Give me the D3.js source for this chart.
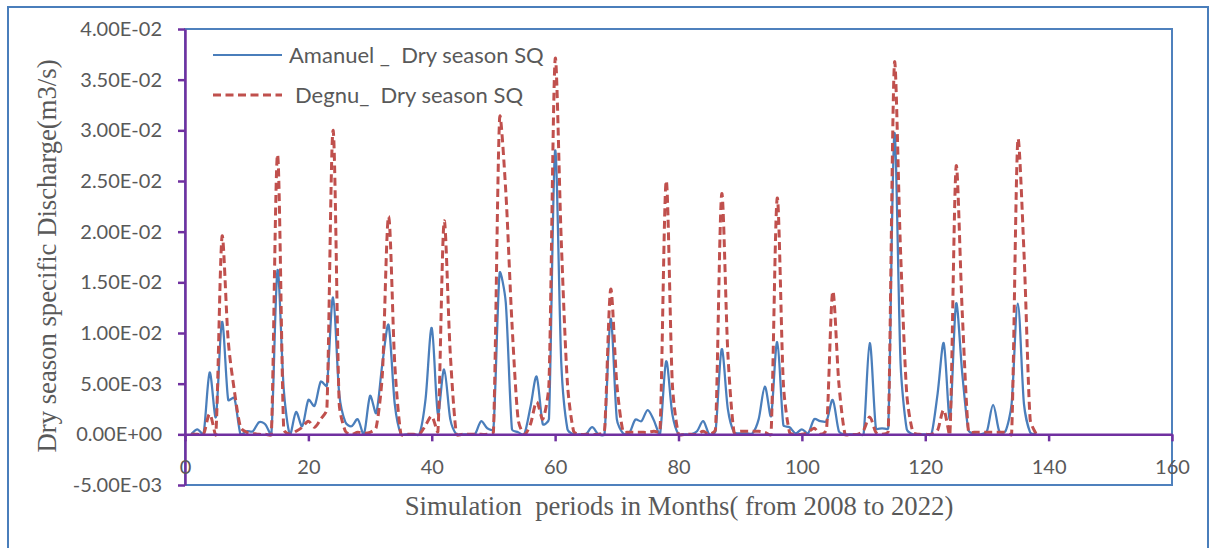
<!DOCTYPE html>
<html>
<head>
<meta charset="utf-8">
<script src="https://cdn.jsdelivr.net/npm/d3@7"></script>
<style>
  body { margin: 0; background: #fff; }
  svg { display: block; }
</style>
</head>
<body>
<div id="chart"></div>
<script>
// months 1..138 of the simulation
var months = d3.range(1, 139);

// dry season specific discharge, in 1e-3 m3/s
var amanuel = [
  0, 0.5, 0, 6.1, 1.7, 11.1, 3.4, 3.6, 0, 0.3,
  0.3, 1.2, 1.0, 0, 16.2, 4.5, 0, 2.2, 0.8, 3.4,
  2.8, 5.2, 4.8, 13.5, 4.0, 1.2, 0.8, 1.5, 0, 3.8,
  2.1, 7.0, 10.8, 3.0, 0, 0, 0, 0, 3.5, 10.5,
  2.0, 6.4, 1.5, 0, 0, 0, 0, 1.3, 0.6, 0.5,
  15.9, 13.0, 0.5, 0.2, 0, 2.7, 5.7, 1.0, 1.5, 28.0,
  7.0, 0.5, 0, 0, 0, 0.7, 0, 0, 11.4, 1.5,
  0.1, 0.1, 1.45, 1.3, 2.4, 1.4, 0, 7.2, 2.0, 0,
  0, 0, 0.3, 1.3, 0, 0.3, 8.4, 2.5, 0.2, 0.1,
  0.1, 0.1, 1.5, 4.7, 1.8, 9.1, 0.9, 0.7, 0.1, 0.5,
  0.1, 1.5, 1.3, 1.3, 3.4, 0.3, 0, 0, 0, 0,
  9.0, 0.6, 0.6, 0.6, 29.7, 7.0, 0.5, 0, 0, 0,
  0, 4.0, 9.0, 1.5, 12.9, 6.0, 0.4, 0, 0, 0.3,
  2.9, 0.3, 0.3, 3.0, 12.9, 3.0, 0.2, 0
];

var degnu = [
  0, 0, 0, 2.0, 0, 19.5, 9.3, 4.3, 0.7, 0.2,
  0.1, 0, 0, 0, 27.6, 0.5, 0, 0.3, 0.7, 1.3,
  0.7, 1.5, 2.5, 30.0, 3.0, 0.3, 0, 0.2, 0.1, 0.2,
  0.7, 6.0, 21.5, 7.0, 0, 0, 0, 0, 0.9, 1.8,
  0.3, 21.0, 8.0, 0, 0, 0, 0, 0, 0, 0.2,
  31.2, 24.0, 11.0, 1.5, 0, 1.0, 3.2, 1.5, 5.0, 37.0,
  19.0, 5.0, 0.3, 0, 0, 0, 0, 0.3, 14.3, 5.0,
  0.3, 0.2, 0.2, 0.2, 0.2, 0.3, 0.3, 25.0, 5.0, 0,
  0, 0, 0, 0.3, 0, 0.5, 23.7, 8.0, 0.2, 0.3,
  0.3, 0.3, 0.3, 0.2, 0, 23.3, 5.0, 0.2, 0, 0,
  0.2, 0.6, 0, 0.5, 14.1, 5.0, 0, 0, 0, 0.4,
  1.7, 0.2, 0, 0.3, 36.6, 18.0, 4.0, 0.2, 0, 0,
  0, 0.4, 2.4, 0, 26.4, 12.0, 0.3, 0.2, 0.2, 0.2,
  0.2, 0.2, 0.2, 0, 29.0, 18.0, 1.5, 0
];

var yTicks = [-5, 0, 5, 10, 15, 20, 25, 30, 35, 40];
var yTickLabels = ["-5.00E-03", "0.00E+00", "5.00E-03", "1.00E-02", "1.50E-02",
  "2.00E-02", "2.50E-02", "3.00E-02", "3.50E-02", "4.00E-02"];
var xTicks = [0, 20, 40, 60, 80, 100, 120, 140, 160];

var seriesNames = ["Amanuel _  Dry season SQ", "Degnu_  Dry season SQ"];

// spreadsheet-style smoothing: bezier with 1/6 tangents, shortened next to
// short segments so the line does not swing far below zero beside a spike
var ctrl = function (a, b, c) {
  var dab = Math.hypot(b[0] - a[0], b[1] - a[1]);
  var dbc = Math.hypot(c[0] - b[0], c[1] - b[1]);
  var s = (dab + dbc) > 0 ? Math.min(1, 2 * dbc / (dab + dbc)) : 0;
  return [b[0] + (c[0] - a[0]) * s / 6, b[1] + (c[1] - a[1]) * s / 6];
};

var smoothPath = function (pts) {
  var p = d3.path();
  var n = pts.length;
  p.moveTo(pts[0][0], pts[0][1]);
  for (var i = 0; i < n - 1; i++) {
    var p0 = pts[Math.max(i - 1, 0)], p1 = pts[i], p2 = pts[i + 1], p3 = pts[Math.min(i + 2, n - 1)];
    var c1 = ctrl(p0, p1, p2);
    var c2 = ctrl(p3, p2, p1);
    p.bezierCurveTo(c1[0], c1[1], c2[0], c2[1], p2[0], p2[1]);
  }
  return p.toString();
};

var draw = function () {
  var width = 1210, height = 548;
  var plotLeft = 185, plotRight = 1172, plotTop = 29, plotBottom = 485;
  var purple = "#7030A0", textColor = "#595959";
  var sans = "Lato, 'Open Sans', sans-serif";
  var serif = "'Liberation Serif', 'Times New Roman', serif";

  var svg = d3.select("#chart").append("svg")
    .attr("width", width)
    .attr("height", height);

  svg.append("rect").attr("width", width).attr("height", height).attr("fill", "#fff");

  // outer frame
  svg.append("rect")
    .attr("x", 8).attr("y", 7)
    .attr("width", 1200).attr("height", 560)
    .attr("fill", "none")
    .attr("stroke", "#4A7EBB")
    .attr("stroke-width", 2);

  var x = d3.scaleLinear().domain([0, 160]).range([plotLeft, plotRight]);
  var y = d3.scaleLinear().domain([-5, 40]).range([plotBottom, plotTop]);

  // plot area border
  svg.append("rect")
    .attr("x", plotLeft).attr("y", plotTop)
    .attr("width", plotRight - plotLeft).attr("height", plotBottom - plotTop)
    .attr("fill", "none")
    .attr("stroke", "#4F81BD")
    .attr("stroke-width", 2);

  var toPoints = function (values) {
    return values.map(function (v, i) { return [x(months[i]), y(v)]; });
  };

  svg.append("path")
    .attr("d", smoothPath(toPoints(amanuel)))
    .attr("fill", "none")
    .attr("stroke", "#4A7EBB")
    .attr("stroke-width", 2.25);

  svg.append("path")
    .attr("d", smoothPath(toPoints(degnu)))
    .attr("fill", "none")
    .attr("stroke", "#C0504D")
    .attr("stroke-width", 3)
    .attr("stroke-dasharray", "8,4.5");

  // y axis
  var yAxis = svg.append("g")
    .attr("transform", "translate(" + plotLeft + ",0)")
    .call(d3.axisLeft(y)
      .tickValues(yTicks)
      .tickSize(7)
      .tickSizeOuter(0)
      .tickPadding(16)
      .tickFormat(function (d, i) { return yTickLabels[i]; }));

  // x axis sits on zero
  var xAxis = svg.append("g")
    .attr("transform", "translate(0," + y(0) + ")")
    .call(d3.axisBottom(x)
      .tickValues(xTicks)
      .tickSize(7)
      .tickSizeOuter(0)
      .tickPadding(18));

  [yAxis, xAxis].forEach(function (g) {
    g.select(".domain").attr("stroke", purple).attr("stroke-width", 2.5);
    g.selectAll(".tick line").attr("stroke", purple).attr("stroke-width", 2.5);
    g.selectAll(".tick text")
      .attr("fill", textColor)
      .style("font-family", sans)
      .style("font-size", "20px");
  });

  // axis titles
  svg.append("text")
    .attr("x", 679).attr("y", 515)
    .attr("text-anchor", "middle")
    .attr("fill", textColor)
    .style("font-family", serif)
    .style("font-size", "26.7px")
    .style("white-space", "pre")
    .text("Simulation  periods in Months( from 2008 to 2022)");

  svg.append("text")
    .attr("transform", "translate(56,256) rotate(-90)")
    .attr("text-anchor", "middle")
    .attr("fill", textColor)
    .style("font-family", serif)
    .style("font-size", "26.7px")
    .text("Dry season specific Discharge(m3/s)");

  // legend
  var legend = svg.append("g");
  legend.append("line")
    .attr("x1", 213).attr("x2", 282).attr("y1", 55).attr("y2", 55)
    .attr("stroke", "#4A7EBB").attr("stroke-width", 2);
  legend.append("line")
    .attr("x1", 213).attr("x2", 282).attr("y1", 95).attr("y2", 95)
    .attr("stroke", "#C0504D").attr("stroke-width", 3)
    .attr("stroke-dasharray", "8,4.5");

  legend.selectAll("text.lbl")
    .data(seriesNames)
    .enter().append("text")
    .attr("class", "lbl")
    .attr("x", function (d, i) { return i === 0 ? 289 : 295; })
    .attr("y", function (d, i) { return i === 0 ? 63 : 103; })
    .attr("fill", textColor)
    .style("font-family", sans)
    .style("font-size", "22px")
    .style("white-space", "pre")
    .text(function (d) { return d; });
};

draw();
</script>
</body>
</html>
